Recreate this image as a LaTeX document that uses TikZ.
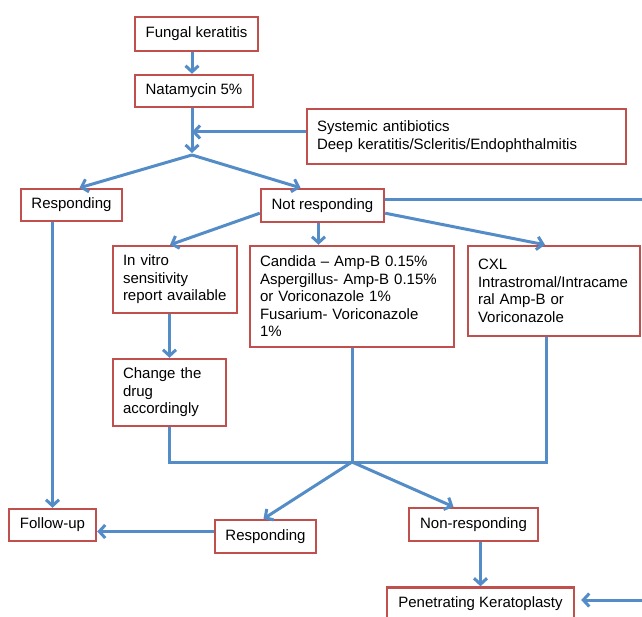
\documentclass[tikz,border=0pt]{standalone}
\usepackage{fontspec}
\setmainfont{Liberation Sans}
\usetikzlibrary{arrows.meta,positioning,calc}
\definecolor{boxred}{RGB}{192,80,77}
\definecolor{flowblue}{RGB}{84,140,200}

\begin{document}
\begin{tikzpicture}[x=1pt, y=-1pt,
  every node/.style={font=\fontsize{15}{17.5}\selectfont},
  box/.style={draw=boxred, line width=2.4pt, fill=white, inner sep=0pt},
  multibox/.style={box, align=left, inner xsep=10pt},
  flow/.style={draw=flowblue, line width=3pt, -{Straight Barb[length=6pt,width=13pt]}},
  link/.style={draw=flowblue, line width=3pt}]
  \useasboundingbox (0,0) rectangle (642,617);
  % first line of treatment
  \node[box,minimum width=123pt,minimum height=34pt] (fungal) at (196.5,34) {Fungal keratitis};
  \node[box,minimum width=118pt,minimum height=32pt] (nata) at (194,91) {Natamycin 5\%};
  \node[multibox,text width=299pt,minimum height=55pt] (sys) at (466.5,136.5) {Systemic antibiotics\\Deep keratitis/Scleritis/Endophthalmitis};
  \node[box,minimum width=101pt,minimum height=32pt] (resp1) at (71.5,205) {Responding};
  \node[box,minimum width=123pt,minimum height=33pt] (notresp) at (322.5,205.5) {Not responding};
  % options when not responding
  \node[multibox,text width=104pt,minimum height=67pt] (invitro) at (175,279.5) {In vitro\\sensitivity\\report available};
  \node[multibox,text width=184pt,minimum height=101pt] (candida) at (352,296.5) {Candida -- Amp-B 0.15\%\\Aspergillus- Amp-B 0.15\%\\or Voriconazole 1\%\\Fusarium- Voriconazole\\1\%};
  \node[multibox,text width=152pt,minimum height=90pt] (cxl) at (554,291) {CXL\\Intrastromal/Intracame\\ral Amp-B or\\Voriconazole};
  \node[multibox,text width=93pt,minimum height=67pt] (change) at (169.5,392.5) {Change the\\drug\\accordingly};
  % outcome
  \node[box,minimum width=87pt,minimum height=32pt] (follow) at (52.5,525) {Follow-up};
  \node[box,minimum width=101pt,minimum height=33pt] (resp2) at (265.5,536.5) {Responding};
  \node[box,minimum width=129pt,minimum height=33pt] (nonresp) at (473.5,524.5) {Non-responding};
  \node[box,minimum width=187pt,minimum height=33pt] (pk) at (480.5,604) {Penetrating Keratoplasty};

  \coordinate (split) at (192,155);
  \coordinate (merge) at (192,132);
  \coordinate (join) at (352,462);
  \coordinate (edgetop) at (642,200);
  \coordinate (edgebot) at (642,600);

  \draw[flow] (fungal.south -| split) -- (nata.north -| split);
  \draw[flow, shorten >=2pt] (nata.south -| split) -- (split);
  \draw[flow] (sys.west |- merge) -- (merge);
  \draw[flow] (split) -- ($(resp1.north)+(8,0)$);
  \draw[flow] (split) -- ($(notresp.north)+(-22,0)$);
  \draw[link] (notresp.east |- edgetop) -- (edgetop);
  \draw[flow] ($(notresp.south west)+(0,-10)$) -- ($(invitro.north)+(-5,0)$);
  \draw[flow] ($(notresp.south)+(-4,0)$) coordinate (nmid) -- (nmid |- candida.north);
  \draw[flow] ($(notresp.south east)+(0,-10)$) -- ($(cxl.north)+(-9,0)$);
  \draw[flow] (change.north |- invitro.south) -- (change.north);
  \draw[link] (change.south) |- (join);
  \draw[link] (candida.south) -- (join);
  \draw[link] ($(cxl.south)+(-8,0)$) |- (join);
  \draw[flow] (join) -- ($(resp2.north)+(-2,0)$);
  \draw[flow] (join) -- ($(nonresp.north)+(-20,0)$);
  \draw[flow] (follow.north |- resp1.south) -- (follow.north);
  \draw[flow] ($(resp2.west)+(0,-5)$) coordinate (r2w) -- (r2w -| follow.east);
  \draw[flow] (pk.north |- nonresp.south) -- (pk.north);
  \draw[flow, shorten >=6pt] (edgebot) -- (edgebot -| pk.east);
\end{tikzpicture}
\end{document}
